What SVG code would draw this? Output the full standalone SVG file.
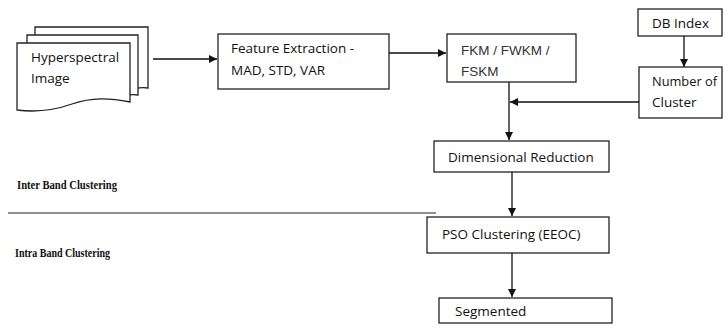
<svg xmlns="http://www.w3.org/2000/svg" width="728" height="332" viewBox="0 0 728 332">
<defs>
<marker id="ah" viewBox="0 0 10 10" refX="10" refY="5" markerWidth="8" markerHeight="8" markerUnits="userSpaceOnUse" orient="auto">
<path d="M0,0 L10,5 L0,10 Z" fill="#111"/>
</marker>
<style>
.box{fill:#fff;stroke:#222;stroke-width:1.3}
.t{font-family:"Open Sans","Liberation Sans",sans-serif;font-size:13.5px;fill:#111}
.a{font-family:"Liberation Sans",Arial,sans-serif;font-size:13.5px;fill:#333}
.s{font-family:"Liberation Serif",serif;font-size:13px;fill:#111;font-weight:bold}
.c{fill:none;stroke:#111;stroke-width:1.3}
</style>
</defs>
<rect width="728" height="332" fill="#fff"/>
<g id="hyperspectral">
<path class="box" d="M35,27 H148 V88 C140,87 138,88 135,89 H35 Z"/>
<path class="box" d="M27,35 H138 V95 C130,94 128,95 125,96 H27 Z"/>
<path class="box" d="M17,43 H130 V102 C110,98 92,97 72,104 C52,111 32,112 17,110 Z"/>
<text class="t" x="31" y="62">Hyperspectral</text>
<text class="t" x="31" y="83">Image</text>
</g>
<g id="feature">
<rect class="box" x="218" y="34" width="171" height="55"/>
<text class="t" x="231" y="53">Feature Extraction -</text>
<text class="t" x="231" y="75">MAD, STD, VAR</text>
</g>
<g id="fkm">
<rect class="box" x="447" y="34" width="129" height="48"/>
<text class="a" x="461" y="55">FKM / FWKM /</text>
<text class="a" x="461" y="76">FSKM</text>
</g>
<g id="dbindex">
<rect class="box" x="638" y="9" width="84" height="27"/>
<text class="t" x="652" y="28">DB Index</text>
</g>
<g id="numcluster">
<rect class="box" x="639" y="67" width="83" height="51"/>
<text class="t" x="652" y="86" textLength="65" lengthAdjust="spacingAndGlyphs">Number of</text>
<text class="t" x="652" y="107">Cluster</text>
</g>
<g id="dimred">
<rect class="box" x="434" y="141" width="175" height="31"/>
<text class="t" x="448" y="162">Dimensional Reduction</text>
</g>
<g id="pso">
<rect class="box" x="427" y="217" width="182" height="36"/>
<text class="t" x="442" y="239">PSO Clustering (EEOC)</text>
</g>
<g id="segmented">
<rect class="box" x="439" y="298" width="173" height="25"/>
<text class="t" x="455" y="316">Segmented</text>
</g>
<g id="labels">
<text class="s" x="17" y="189" textLength="100" lengthAdjust="spacingAndGlyphs">Inter Band Clustering</text>
<text class="s" x="15" y="257" textLength="95" lengthAdjust="spacingAndGlyphs">Intra Band Clustering</text>
<line x1="8" y1="213" x2="436" y2="213" stroke="#222" stroke-width="1.2"/>
</g>
<g id="connectors">
<line class="c" x1="153" y1="59" x2="217" y2="59" marker-end="url(#ah)"/>
<line class="c" x1="389" y1="53" x2="446" y2="53" marker-end="url(#ah)"/>
<line class="c" x1="684" y1="36" x2="684" y2="67" marker-end="url(#ah)"/>
<line class="c" x1="639" y1="102" x2="510" y2="102" marker-end="url(#ah)"/>
<line class="c" x1="509" y1="82" x2="509" y2="140" marker-end="url(#ah)"/>
<line class="c" x1="512" y1="172" x2="512" y2="216" marker-end="url(#ah)"/>
<line class="c" x1="512" y1="253" x2="512" y2="297" marker-end="url(#ah)"/>
</g>
</svg>
